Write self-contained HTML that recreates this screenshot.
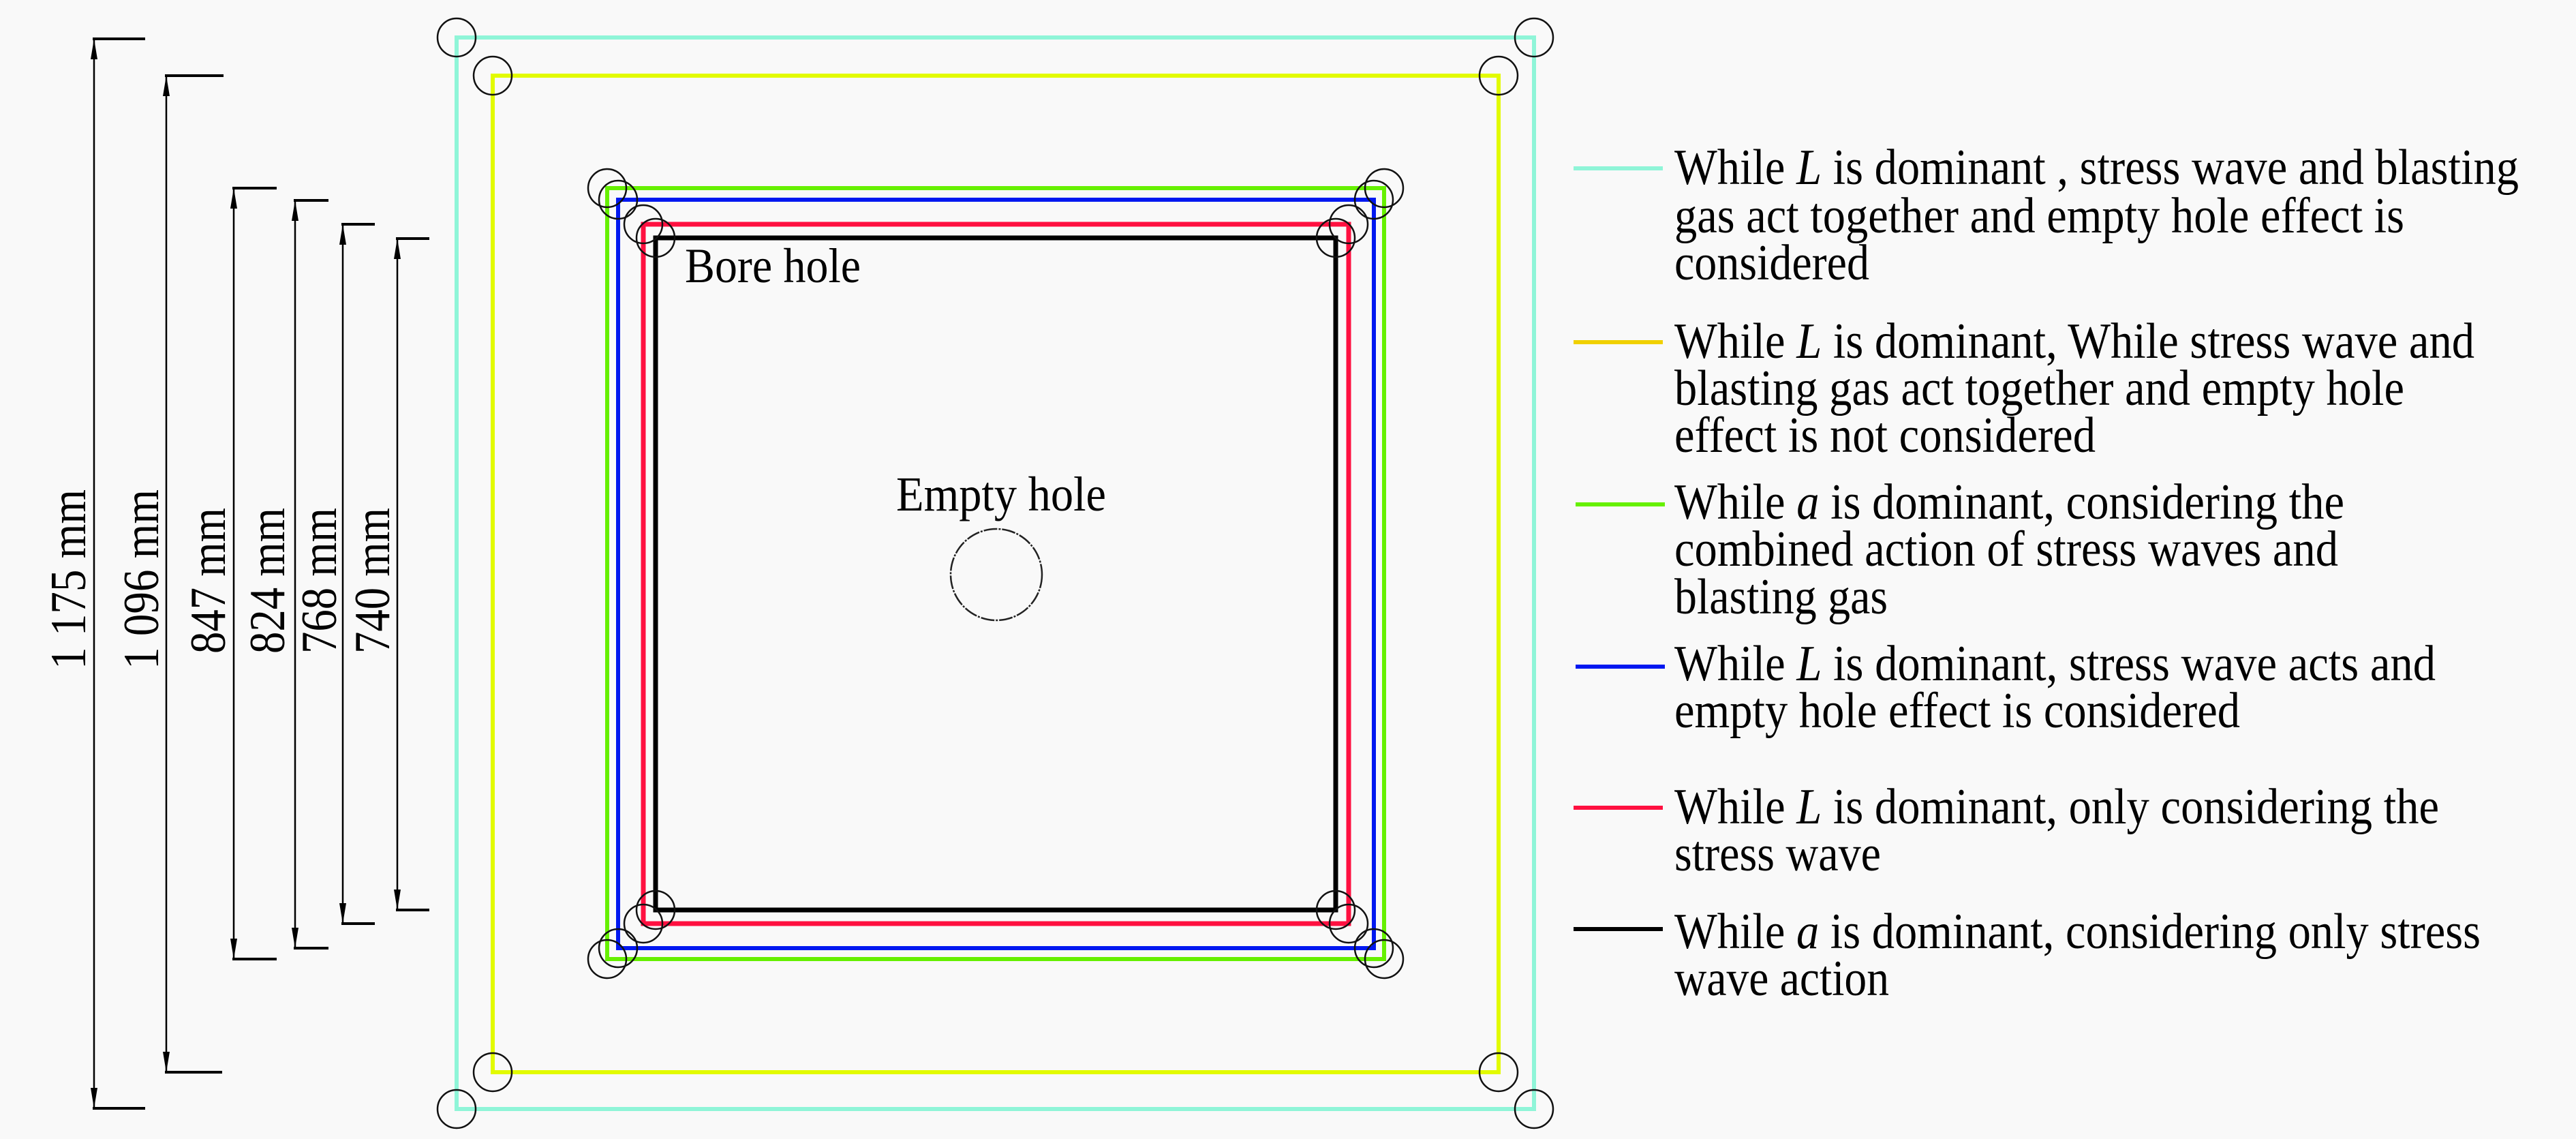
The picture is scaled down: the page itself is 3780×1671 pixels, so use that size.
<!DOCTYPE html>
<html><head><meta charset="utf-8"><style>
html,body{margin:0;padding:0;background:#f9f9f9;}
svg{display:block;}
text{font-family:"Liberation Serif",serif;fill:#000;}
</style></head><body>
<svg width="3780" height="1671" viewBox="0 0 3780 1671" xmlns="http://www.w3.org/2000/svg">
<rect width="3780" height="1671" fill="#f9f9f9"/>
<!-- rectangles -->
<g fill="none" stroke-linejoin="miter">
<rect x="670" y="55" width="1581" height="1572" stroke="#8ff5d8" stroke-width="6"/>
<rect x="723" y="111" width="1476" height="1462" stroke="#e2fb00" stroke-width="6"/>
<rect x="891" y="276" width="1140" height="1131" stroke="#66f000" stroke-width="6"/>
<rect x="907" y="293" width="1109" height="1098" stroke="#0018f0" stroke-width="6"/>
<rect x="944" y="329" width="1035" height="1026" stroke="#ff1040" stroke-width="7"/>
<rect x="962" y="349" width="998" height="986" stroke="#000" stroke-width="7"/>
</g>
<!-- corner circles -->
<g fill="none" stroke="#111" stroke-width="2.5">
<circle cx="670" cy="55" r="28"/><circle cx="2251" cy="55" r="28"/><circle cx="670" cy="1627" r="28"/><circle cx="2251" cy="1627" r="28"/>
<circle cx="723" cy="111" r="28"/><circle cx="2199" cy="111" r="28"/><circle cx="723" cy="1573" r="28"/><circle cx="2199" cy="1573" r="28"/>
<circle cx="891" cy="276" r="28"/><circle cx="2031" cy="276" r="28"/><circle cx="891" cy="1407" r="28"/><circle cx="2031" cy="1407" r="28"/>
<circle cx="907" cy="293" r="28"/><circle cx="2016" cy="293" r="28"/><circle cx="907" cy="1391" r="28"/><circle cx="2016" cy="1391" r="28"/>
<circle cx="944" cy="329" r="28"/><circle cx="1979" cy="329" r="28"/><circle cx="944" cy="1355" r="28"/><circle cx="1979" cy="1355" r="28"/>
<circle cx="962" cy="349" r="28"/><circle cx="1960" cy="349" r="28"/><circle cx="962" cy="1335" r="28"/><circle cx="1960" cy="1335" r="28"/>
</g>
<!-- empty hole -->
<circle cx="1462" cy="843" r="67" fill="none" stroke="#222" stroke-width="2.5" stroke-dasharray="20 2 3 2"/>
<text x="1315" y="749" font-size="72" textLength="308" lengthAdjust="spacingAndGlyphs">Empty hole</text>
<text x="1005" y="414" font-size="72" textLength="258" lengthAdjust="spacingAndGlyphs">Bore hole</text>
<!-- dimensions -->
<g stroke="#000" stroke-width="2.5" fill="none">
<line x1="138" y1="57" x2="138" y2="1626"/>
<line x1="244" y1="111" x2="244" y2="1573"/>
<line x1="343" y1="276" x2="343" y2="1407"/>
<line x1="433" y1="294" x2="433" y2="1391"/>
<line x1="503" y1="329" x2="503" y2="1355"/>
<line x1="583" y1="350" x2="583" y2="1335"/>
</g>
<g fill="#000">
<path d="M138,57 l-5,30 h10 z"/><path d="M138,1626 l-5,-30 h10 z"/>
<path d="M244,111 l-5,30 h10 z"/><path d="M244,1573 l-5,-30 h10 z"/>
<path d="M343,276 l-5,30 h10 z"/><path d="M343,1407 l-5,-30 h10 z"/>
<path d="M433,294 l-5,30 h10 z"/><path d="M433,1391 l-5,-30 h10 z"/>
<path d="M503,329 l-5,30 h10 z"/><path d="M503,1355 l-5,-30 h10 z"/>
<path d="M583,350 l-5,30 h10 z"/><path d="M583,1335 l-5,-30 h10 z"/>
</g>
<g stroke="#000" stroke-width="4">
<line x1="136" y1="57" x2="213" y2="57"/><line x1="136" y1="1626" x2="213" y2="1626"/>
<line x1="242" y1="111" x2="328" y2="111"/><line x1="242" y1="1573" x2="326" y2="1573"/>
<line x1="341" y1="276" x2="406" y2="276"/><line x1="341" y1="1407" x2="406" y2="1407"/>
<line x1="431" y1="294" x2="482" y2="294"/><line x1="431" y1="1391" x2="482" y2="1391"/>
<line x1="501" y1="329" x2="550" y2="329"/><line x1="501" y1="1355" x2="550" y2="1355"/>
<line x1="581" y1="350" x2="630" y2="350"/><line x1="581" y1="1335" x2="630" y2="1335"/>
</g>
<g font-size="74" text-anchor="middle">
<text transform="translate(125,850) rotate(-90)" textLength="264" lengthAdjust="spacingAndGlyphs">1 175 mm</text>
<text transform="translate(232,850) rotate(-90)" textLength="264" lengthAdjust="spacingAndGlyphs">1 096 mm</text>
<text transform="translate(330,852) rotate(-90)" textLength="214" lengthAdjust="spacingAndGlyphs">847 mm</text>
<text transform="translate(417,852) rotate(-90)" textLength="214" lengthAdjust="spacingAndGlyphs">824 mm</text>
<text transform="translate(493,852) rotate(-90)" textLength="214" lengthAdjust="spacingAndGlyphs">768 mm</text>
<text transform="translate(571,852) rotate(-90)" textLength="214" lengthAdjust="spacingAndGlyphs">740 mm</text>
</g>
<!-- legend -->
<g stroke-width="6">
<line x1="2309" y1="247" x2="2440" y2="247" stroke="#8ff5d8"/>
<line x1="2309" y1="502" x2="2440" y2="502" stroke="#f0d000"/>
<line x1="2312" y1="740" x2="2443" y2="740" stroke="#66f000"/>
<line x1="2312" y1="978" x2="2443" y2="978" stroke="#0018f0"/>
<line x1="2309" y1="1185" x2="2440" y2="1185" stroke="#ff1040"/>
<line x1="2309" y1="1363" x2="2440" y2="1363" stroke="#000"/>
</g>
<g font-size="74">
<text x="2457" y="270" textLength="1239" lengthAdjust="spacingAndGlyphs">While <tspan font-style="italic">L</tspan> is dominant , stress wave and blasting</text>
<text x="2457" y="341" textLength="1071" lengthAdjust="spacingAndGlyphs">gas act together and empty hole effect is</text>
<text x="2457" y="410" textLength="286" lengthAdjust="spacingAndGlyphs">considered</text>
<text x="2457" y="525" textLength="1174" lengthAdjust="spacingAndGlyphs">While <tspan font-style="italic">L</tspan> is dominant, While stress wave and</text>
<text x="2457" y="594" textLength="1071" lengthAdjust="spacingAndGlyphs">blasting gas act together and empty hole</text>
<text x="2457" y="663" textLength="618" lengthAdjust="spacingAndGlyphs">effect is not considered</text>
<text x="2457" y="761" textLength="983" lengthAdjust="spacingAndGlyphs">While <tspan font-style="italic">a</tspan> is dominant, considering the</text>
<text x="2457" y="830" textLength="974" lengthAdjust="spacingAndGlyphs">combined action of stress waves and</text>
<text x="2457" y="900" textLength="313" lengthAdjust="spacingAndGlyphs">blasting gas</text>
<text x="2457" y="998" textLength="1117" lengthAdjust="spacingAndGlyphs">While <tspan font-style="italic">L</tspan> is dominant, stress wave acts and</text>
<text x="2457" y="1067" textLength="830" lengthAdjust="spacingAndGlyphs">empty hole effect is considered</text>
<text x="2457" y="1208" textLength="1122" lengthAdjust="spacingAndGlyphs">While <tspan font-style="italic">L</tspan> is dominant, only considering the</text>
<text x="2457" y="1277" textLength="303" lengthAdjust="spacingAndGlyphs">stress wave</text>
<text x="2457" y="1391" textLength="1183" lengthAdjust="spacingAndGlyphs">While <tspan font-style="italic">a</tspan> is dominant, considering only stress</text>
<text x="2457" y="1460" textLength="315" lengthAdjust="spacingAndGlyphs">wave action</text>
</g>
</svg>
</body></html>
